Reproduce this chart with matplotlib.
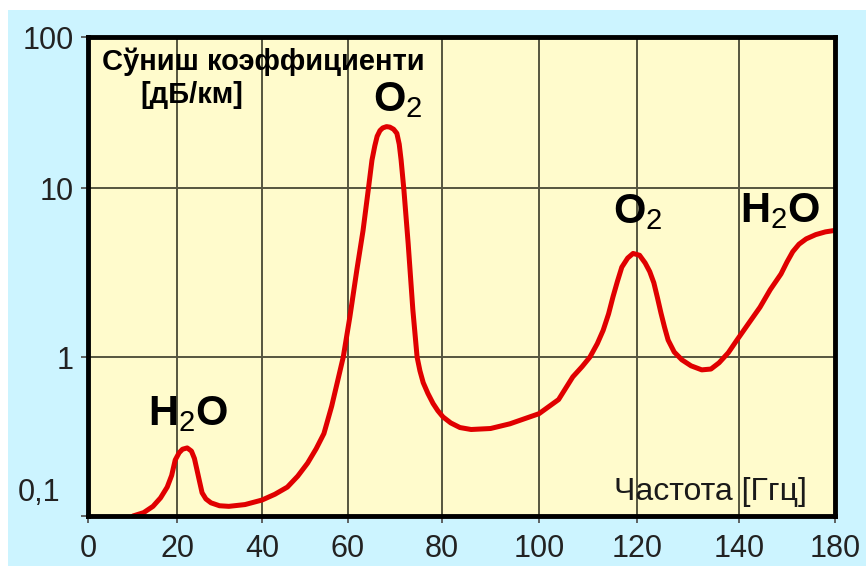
import numpy as np
import matplotlib
matplotlib.use("Agg")
import matplotlib.pyplot as plt
from matplotlib.patches import Rectangle

# Data: frequency [GHz] and attenuation [dB/km]
freq = [10.1, 12.5, 14.6, 16.3, 17.8, 18.8, 19.6, 20.5, 21.3, 22.4, 23.4, 24.1,
        24.7, 25.3, 25.9, 26.8, 28, 30, 32.2, 36, 40, 43, 45.9, 48.3, 50.6,
        52.6, 54.4, 56.2, 57.5, 58.9, 60.4, 61.9, 63.2, 64.3, 65.1, 65.7, 66.2,
        66.8, 67.4, 68.2, 68.9, 69.7, 70.4, 70.9, 71.3, 71.9, 72.8, 73.8, 74.7,
        75.3, 76, 77, 78.1, 79.1, 80.2, 81.8, 83.7, 86, 90, 94, 100, 104,
        106.9, 108.8, 110.4, 111.9, 113.1, 114.2, 115.1, 116, 116.9, 118.1,
        119.2, 120.5, 121.6, 122.5, 123.3, 124, 124.7, 125.4, 126.1, 127.3,
        128.8, 130.6, 132.7, 134.5, 136.1, 137.9, 139.6, 144, 148.75, 153,
        157.5, 160, 162.4, 165, 168, 172, 176, 179.5]
atten = [0.1, 0.105, 0.115, 0.13, 0.152, 0.18, 0.225, 0.25, 0.263, 0.268, 0.256,
         0.23, 0.195, 0.165, 0.14, 0.128, 0.121, 0.116, 0.115, 0.118, 0.126,
         0.137, 0.152, 0.178, 0.215, 0.265, 0.33, 0.49, 0.69, 1.0, 1.73, 3.3,
         5.6, 9.7, 15.3, 19, 22, 24, 25, 25.5, 25.3, 24.5, 23, 19.5, 15.3, 9.7,
         4.7, 1.9, 1.0, 0.82, 0.69, 0.59, 0.51, 0.46, 0.42, 0.385, 0.36, 0.35,
         0.355, 0.38, 0.44, 0.54, 0.75, 0.87, 1.0, 1.2, 1.44, 1.8, 2.27, 2.8,
         3.4, 3.85, 4.1, 4.0, 3.6, 3.2, 2.75, 2.25, 1.82, 1.5, 1.26, 1.07, 0.96,
         0.88, 0.83, 0.84, 0.92, 1.06, 1.26, 1.58, 1.97, 2.5, 3.1, 3.65, 4.2,
         4.65, 5.0, 5.3, 5.5, 5.6]

xtick_vals = [0, 20, 40, 60, 80, 100, 120, 140, 180]
ytick_vals = [0.1, 1, 10, 100]
ytick_labels = ["", "1", "10", "100"]

# the hand-drawn axes are not evenly spaced, so map them piecewise
x_pos = [0, 89, 174, 260, 354, 451, 549, 651, 747]
y_pos = [0, 159, 328, 479]


def fx(x):
    return np.interp(x, xtick_vals, x_pos)


def fx_inv(p):
    return np.interp(p, x_pos, xtick_vals)


def fy(y):
    return np.interp(np.log10(np.clip(y, 1e-6, None)), [-1, 0, 1, 2], y_pos)


def fy_inv(p):
    return 10 ** np.interp(p, y_pos, [-1, 0, 1, 2])


plt.rcParams['font.family'] = ['Liberation Sans', 'DejaVu Sans']
plt.rcParams['mathtext.fontset'] = 'custom'
plt.rcParams['mathtext.rm'] = 'Liberation Sans'
plt.rcParams['mathtext.bf'] = 'Liberation Sans:bold'

blue = '#ccf4ff'
yellow = '#fffbcc'

fig = plt.figure(figsize=(8.66, 5.66), dpi=100, facecolor=blue)
fig.patches.append(Rectangle((0, 1 - 10 / 566), 1, 10 / 566, transform=fig.transFigure,
                             facecolor='white', edgecolor='none', zorder=-1))
fig.patches.append(Rectangle((0, 0), 8 / 866, 1, transform=fig.transFigure,
                             facecolor='white', edgecolor='none', zorder=-1))

ax = fig.add_axes([88 / 866, 1 - 516 / 566, 747 / 866, 479 / 566])
ax.set_facecolor(yellow)
ax.set_xscale('function', functions=(fx, fx_inv))
ax.set_yscale('function', functions=(fy, fy_inv))
ax.set_xlim(0, 180)
ax.set_ylim(0.1, 100)

ax.plot(freq, atten, color='#e00000', lw=3.6, solid_capstyle='round',
        solid_joinstyle='round', zorder=3)

ax.set_xticks(xtick_vals)
ax.set_xticklabels([str(v) for v in xtick_vals])
ax.set_yticks(ytick_vals)
ax.set_yticklabels(ytick_labels)
ax.yaxis.set_minor_locator(matplotlib.ticker.NullLocator())
ax.xaxis.set_minor_locator(matplotlib.ticker.NullLocator())
ax.tick_params(axis='both', direction='out', length=5, width=1.3, color='#555555',
               labelsize=22, labelcolor='#222222')
ax.tick_params(axis='x', pad=8)
ax.tick_params(axis='y', pad=5)
ax.grid(True, color='#55553f', lw=1.4)
ax.set_axisbelow(True)
for s in ax.spines.values():
    s.set_linewidth(3.5)
    s.set_color('black')
    s.set_zorder(4)

# "0,1" label sits a bit above the bottom edge in the original
ax.text(-0.037, 0.048, "0,1", transform=ax.transAxes, ha='right', va='center',
        fontsize=22, color='#222222')

ax.text(0.019, 0.931, "Сўниш коэффициенти", transform=ax.transAxes, fontsize=21,
        fontweight='bold', ha='left', va='baseline')
ax.text(0.139, 0.862, "[дБ/км]", transform=ax.transAxes, fontsize=21,
        fontweight='bold', ha='center', va='baseline')
ax.text(0.9625, 0.033, "Частота [Ггц]", transform=ax.transAxes, fontsize=23,
        ha='right', va='baseline', color='#1a1a1a')

mol = dict(transform=ax.transAxes, fontsize=30, ha='left', va='baseline')
ax.text(0.381, 0.846, r'$\mathbf{O}_{\mathrm{2}}$', **mol)
ax.text(0.080, 0.190, r'$\mathbf{H}_{\mathrm{2}}\mathbf{O}$', **mol)
ax.text(0.703, 0.612, r'$\mathbf{O}_{\mathrm{2}}$', **mol)
ax.text(0.873, 0.614, r'$\mathbf{H}_{\mathrm{2}}\mathbf{O}$', **mol)

fig.savefig('out.png', dpi=100, facecolor=fig.get_facecolor())
